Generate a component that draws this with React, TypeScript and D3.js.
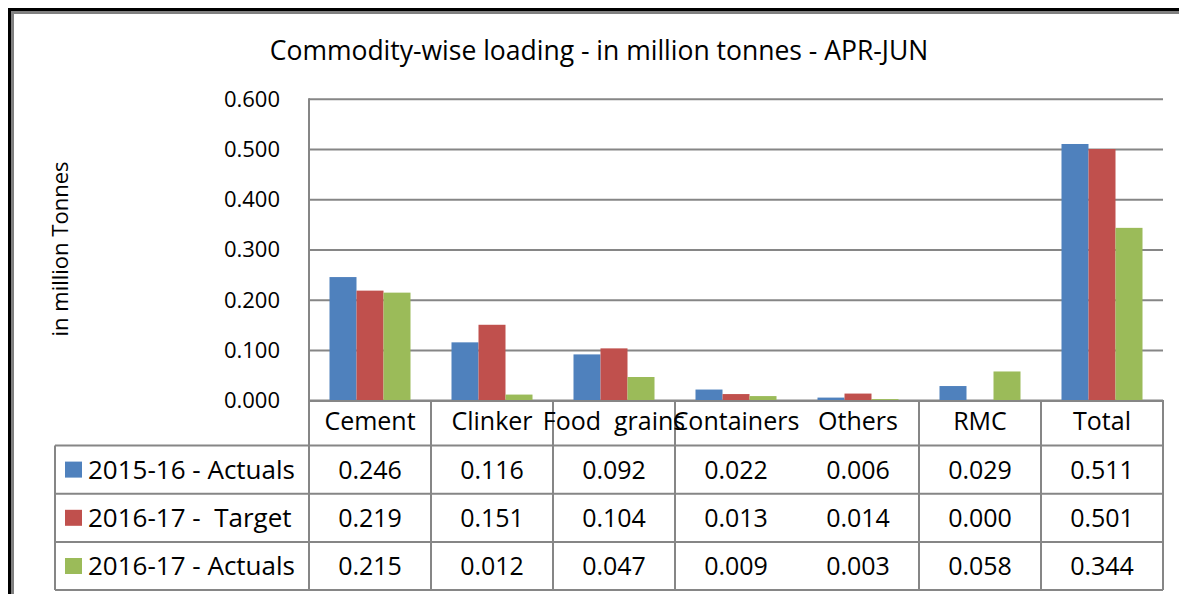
import React from "react";
import * as d3 from "d3";

const categories = ["Cement", "Clinker", "Food  grains", "Containers", "Others", "RMC", "Total"];
const seriesNames = ["2015-16 - Actuals", "2016-17 -  Target", "2016-17 - Actuals"];
const actuals1516 = [0.246, 0.116, 0.092, 0.022, 0.006, 0.029, 0.511];
const target1617 = [0.219, 0.151, 0.104, 0.013, 0.014, 0.0, 0.501];
const actuals1617 = [0.215, 0.012, 0.047, 0.009, 0.003, 0.058, 0.344];
const yTicks = [0, 0.1, 0.2, 0.3, 0.4, 0.5, 0.6];
const colors = ["#4F81BD", "#C0504D", "#9BBB59"];
const title = "Commodity-wise loading - in million tonnes - APR-JUN";
const yTitle = "in million Tonnes";
// category boundaries (index of the boundary line) that are not drawn in the data table
const hiddenBoundaries = [4];

const W = 1179;
const H = 594;
const FONT = "'Open Sans', 'Noto Sans', sans-serif";
const GRID = "#868686";

export default function App() {
  const series = [actuals1516, target1617, actuals1617];
  const plotLeft = 309;
  const plotRight = 1163;
  const plotTop = 99.3;
  const plotBottom = 400.6;

  const x = d3.scaleBand<string>().domain(categories).range([plotLeft, plotRight]).paddingInner(0).paddingOuter(0);
  const bw = x.bandwidth();
  const xs = d3
    .scaleBand<string>()
    .domain(seriesNames)
    .range([bw * 0.168, bw * 0.832])
    .paddingInner(0)
    .paddingOuter(0);
  const y = d3.scaleLinear().domain([0, 0.6]).range([plotBottom, plotTop]);

  const legendLeft = 55;
  const headerTop = 401;
  const headerBottom = 445.5;
  const rowH = 48.2;
  const rowTops = seriesNames.map((_, i) => headerBottom + i * rowH);
  const tableBottom = headerBottom + seriesNames.length * rowH;

  const fmt = d3.format(".3f");
  const innerBoundaries = d3
    .range(1, categories.length + 1)
    .filter((b) => hiddenBoundaries.indexOf(b) < 0);

  return (
    <svg
      width={W}
      height={H}
      viewBox={`0 0 ${W} ${H}`}
      style={{ position: "absolute", left: 0, top: 0, background: "#fff" }}
    >
      <rect x={0} y={0} width={W} height={H} fill="#fff" />
      {/* outer frame */}
      <line x1={9.5} y1={8} x2={9.5} y2={H} stroke="#000" strokeWidth={3} />
      <line x1={8} y1={9.5} x2={W} y2={9.5} stroke="#000" strokeWidth={3} />
      <line x1={12.5} y1={11} x2={12.5} y2={H} stroke="#808080" strokeWidth={3} />
      <line x1={11} y1={12.5} x2={W} y2={12.5} stroke="#808080" strokeWidth={3} />

      {/* title */}
      <text x={599} y={60} textAnchor="middle" fontFamily={FONT} fontSize={26.5} fill="#000">
        {title}
      </text>

      {/* y axis title */}
      <text
        transform={`translate(68,249) rotate(-90)`}
        textAnchor="middle"
        fontFamily={FONT}
        fontSize={22}
        fill="#000"
      >
        {yTitle}
      </text>

      {/* gridlines */}
      {yTicks.map((t) => (
        <line key={"g" + t} x1={plotLeft} x2={plotRight} y1={y(t)} y2={y(t)} stroke={GRID} strokeWidth={2} />
      ))}
      {/* y tick labels */}
      {yTicks.map((t) => (
        <text
          key={"t" + t}
          x={280}
          y={y(t) + 7.5}
          textAnchor="end"
          fontFamily={FONT}
          fontSize={22}
          fill="#000"
        >
          {fmt(t)}
        </text>
      ))}

      {/* bars */}
      {series.map((vals, si) =>
        vals.map((v, ci) => (
          <rect
            key={`b${si}-${ci}`}
            x={(x(categories[ci]) as number) + (xs(seriesNames[si]) as number)}
            y={y(v)}
            width={xs.bandwidth()}
            height={y(0) - y(v)}
            fill={colors[si]}
          />
        ))
      )}

      {/* data table lines */}
      <line x1={plotLeft} x2={plotRight} y1={headerTop} y2={headerTop} stroke={GRID} strokeWidth={2} />
      {rowTops.map((ry, i) => (
        <line key={"r" + i} x1={legendLeft} x2={plotRight} y1={ry} y2={ry} stroke={GRID} strokeWidth={2} />
      ))}
      <line x1={legendLeft} x2={plotRight} y1={tableBottom} y2={tableBottom} stroke={GRID} strokeWidth={2} />
      <line x1={legendLeft} x2={legendLeft} y1={headerBottom} y2={tableBottom} stroke={GRID} strokeWidth={2} />
      <line x1={plotLeft} x2={plotLeft} y1={plotTop - 1} y2={tableBottom} stroke={GRID} strokeWidth={2} />
      {innerBoundaries.map((b) => {
        const bx = plotLeft + b * bw;
        return (
          <line key={"v" + b} x1={bx} x2={bx} y1={headerTop - 1} y2={tableBottom} stroke={GRID} strokeWidth={2} />
        );
      })}

      {/* header labels */}
      {categories.map((c) => (
        <text
          key={"h" + c}
          x={(x(c) as number) + bw / 2}
          y={430}
          textAnchor="middle"
          fontFamily={FONT}
          fontSize={25}
          fill="#000"
          style={{ whiteSpace: "pre" }}
        >
          {c}
        </text>
      ))}

      {/* legend cells */}
      {seriesNames.map((s, si) => (
        <g key={"l" + si}>
          <rect x={65} y={rowTops[si] + rowH / 2 - 8} width={17} height={16} fill={colors[si]} />
          <text
            x={88}
            y={rowTops[si] + rowH / 2 + 9}
            fontFamily={FONT}
            fontSize={26}
            fill="#000"
            style={{ whiteSpace: "pre" }}
          >
            {s}
          </text>
        </g>
      ))}

      {/* values */}
      {series.map((vals, si) =>
        vals.map((v, ci) => (
          <text
            key={`v${si}-${ci}`}
            x={(x(categories[ci]) as number) + bw / 2}
            y={rowTops[si] + rowH / 2 + 9}
            textAnchor="middle"
            fontFamily={FONT}
            fontSize={25}
            fill="#000"
          >
            {fmt(v)}
          </text>
        ))
      )}
    </svg>
  );
}
